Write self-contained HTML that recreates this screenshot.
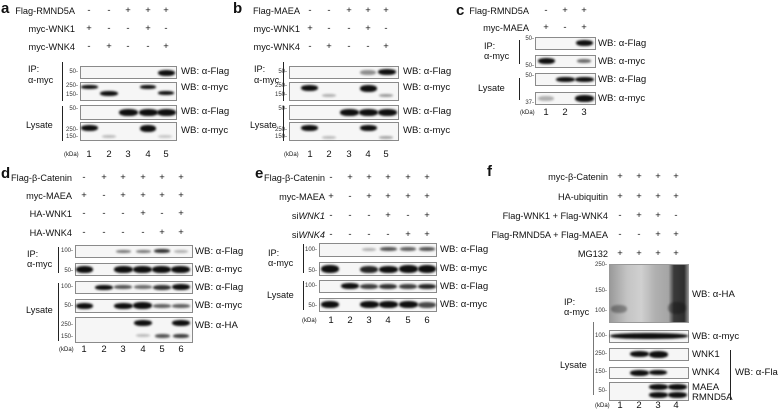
<!DOCTYPE html>
<html><head><meta charset="utf-8"><style>
body{margin:0;background:#fff;}
#c{position:relative;width:778px;height:411px;overflow:hidden;font-family:"Liberation Sans",sans-serif;color:#111;}
.t{position:absolute;font-size:9.2px;white-space:nowrap;line-height:11px;}
.r{position:absolute;font-size:9.2px;white-space:nowrap;line-height:12px;text-align:right;}
.s{position:absolute;font-size:9.5px;width:10px;text-align:center;line-height:12px;}
.L{position:absolute;font-size:15px;font-weight:bold;line-height:16px;}
.box{position:absolute;border:1px solid #8a8a8a;background:#f6f6f6;box-sizing:border-box;}
.b{position:absolute;background:#0e0e0e;border-radius:45%;filter:blur(1.1px);}
.m{position:absolute;font-size:6px;line-height:7px;color:#333;text-align:right;width:20px;}
.v{position:absolute;width:1px;background:#222;}
.wb{position:absolute;font-size:9.6px;white-space:nowrap;line-height:12px;}
</style></head><body><div id="c">

<!-- ===== a ===== -->
<div class="L" style="left:1px;top:1px">a</div>
<div class="r" style="right:703px;top:5px">Flag-RMND5A</div>
<div class="r" style="right:703px;top:23px">myc-WNK1</div>
<div class="r" style="right:703px;top:41px">myc-WNK4</div>
<div class="s" style="left:84px;top:5px">-</div><div class="s" style="left:104px;top:5px">-</div><div class="s" style="left:123px;top:5px">+</div><div class="s" style="left:143px;top:5px">+</div><div class="s" style="left:161px;top:5px">+</div>
<div class="s" style="left:84px;top:23px">+</div><div class="s" style="left:104px;top:23px">-</div><div class="s" style="left:123px;top:23px">-</div><div class="s" style="left:143px;top:23px">+</div><div class="s" style="left:161px;top:23px">-</div>
<div class="s" style="left:84px;top:41px">-</div><div class="s" style="left:104px;top:41px">+</div><div class="s" style="left:123px;top:41px">-</div><div class="s" style="left:143px;top:41px">-</div><div class="s" style="left:161px;top:41px">+</div>
<div class="box" style="left:80px;top:66px;width:97px;height:13px"></div>
<div class="box" style="left:80px;top:82px;width:97px;height:19px"></div>
<div class="box" style="left:80px;top:105px;width:97px;height:15px"></div>
<div class="box" style="left:80px;top:122px;width:97px;height:19px"></div>
<div class="b" style="left:158px;top:70px;width:17px;height:6px"></div>
<div class="b" style="left:81px;top:85px;width:17px;height:4px"></div>
<div class="b" style="left:100px;top:91px;width:18px;height:5px"></div>
<div class="b" style="left:140px;top:85px;width:16px;height:4px"></div>
<div class="b" style="left:158px;top:91px;width:16px;height:4px"></div>
<div class="b" style="left:119px;top:109px;width:19px;height:7px"></div>
<div class="b" style="left:139px;top:109px;width:19px;height:7px"></div>
<div class="b" style="left:157px;top:109px;width:19px;height:7px"></div>
<div class="b" style="left:81px;top:125px;width:17px;height:6px"></div>
<div class="b" style="left:140px;top:125px;width:16px;height:7px"></div>
<div class="b" style="left:102px;top:135px;width:14px;height:3px;opacity:.25"></div>
<div class="b" style="left:158px;top:135px;width:14px;height:3px;opacity:.2"></div>
<div class="m" style="left:58px;top:69px">50-</div>
<div class="m" style="left:58px;top:83px">250-</div>
<div class="m" style="left:58px;top:92px">150-</div>
<div class="m" style="left:58px;top:106px">50-</div>
<div class="m" style="left:58px;top:127px">250-</div>
<div class="m" style="left:58px;top:134px">150-</div>
<div class="wb" style="left:181px;top:66px">WB: α-Flag</div>
<div class="wb" style="left:181px;top:82px">WB: α-myc</div>
<div class="wb" style="left:181px;top:106px">WB: α-Flag</div>
<div class="wb" style="left:181px;top:125px">WB: α-myc</div>
<div class="v" style="left:62px;top:62px;height:39px"></div>
<div class="v" style="left:62px;top:106px;height:35px"></div>
<div class="t" style="left:28px;top:64px">IP:</div>
<div class="t" style="left:28px;top:75px">α-myc</div>
<div class="t" style="left:26px;top:120px">Lysate</div>
<div class="t" style="left:64px;top:150px;font-size:6px">(kDa)</div>
<div class="s" style="left:84px;top:149px">1</div><div class="s" style="left:104px;top:149px">2</div><div class="s" style="left:123px;top:149px">3</div><div class="s" style="left:143px;top:149px">4</div><div class="s" style="left:161px;top:149px">5</div>

<!-- ===== b ===== -->
<div class="L" style="left:233px;top:1px">b</div>
<div class="r" style="right:478px;top:5px">Flag-MAEA</div>
<div class="r" style="right:478px;top:23px">myc-WNK1</div>
<div class="r" style="right:478px;top:41px">myc-WNK4</div>
<div class="s" style="left:305px;top:5px">-</div><div class="s" style="left:324px;top:5px">-</div><div class="s" style="left:344px;top:5px">+</div><div class="s" style="left:363px;top:5px">+</div><div class="s" style="left:381px;top:5px">+</div>
<div class="s" style="left:305px;top:23px">+</div><div class="s" style="left:324px;top:23px">-</div><div class="s" style="left:344px;top:23px">-</div><div class="s" style="left:363px;top:23px">+</div><div class="s" style="left:381px;top:23px">-</div>
<div class="s" style="left:305px;top:41px">-</div><div class="s" style="left:324px;top:41px">+</div><div class="s" style="left:344px;top:41px">-</div><div class="s" style="left:363px;top:41px">-</div><div class="s" style="left:381px;top:41px">+</div>
<div class="box" style="left:289px;top:66px;width:110px;height:13px"></div>
<div class="box" style="left:289px;top:82px;width:110px;height:19px"></div>
<div class="box" style="left:289px;top:105px;width:110px;height:15px"></div>
<div class="box" style="left:289px;top:122px;width:110px;height:19px"></div>
<div class="b" style="left:360px;top:70px;width:16px;height:5px;opacity:.45"></div>
<div class="b" style="left:378px;top:69px;width:18px;height:6px"></div>
<div class="b" style="left:301px;top:85px;width:17px;height:6px"></div>
<div class="b" style="left:360px;top:85px;width:17px;height:7px"></div>
<div class="b" style="left:322px;top:94px;width:14px;height:3px;opacity:.3"></div>
<div class="b" style="left:379px;top:94px;width:14px;height:3px;opacity:.4"></div>
<div class="b" style="left:340px;top:109px;width:19px;height:7px"></div>
<div class="b" style="left:359px;top:109px;width:19px;height:7px"></div>
<div class="b" style="left:378px;top:109px;width:19px;height:7px"></div>
<div class="b" style="left:301px;top:125px;width:17px;height:6px"></div>
<div class="b" style="left:360px;top:125px;width:17px;height:6px"></div>
<div class="b" style="left:322px;top:136px;width:14px;height:3px;opacity:.25"></div>
<div class="b" style="left:379px;top:136px;width:14px;height:3px;opacity:.35"></div>
<div class="m" style="left:267px;top:69px">50-</div>
<div class="m" style="left:267px;top:83px">250-</div>
<div class="m" style="left:267px;top:92px">150-</div>
<div class="m" style="left:267px;top:106px">50-</div>
<div class="m" style="left:267px;top:127px">250-</div>
<div class="m" style="left:267px;top:134px">150-</div>
<div class="wb" style="left:403px;top:66px">WB: α-Flag</div>
<div class="wb" style="left:403px;top:82px">WB: α-myc</div>
<div class="wb" style="left:403px;top:106px">WB: α-Flag</div>
<div class="wb" style="left:403px;top:125px">WB: α-myc</div>
<div class="v" style="left:283px;top:62px;height:39px"></div>
<div class="v" style="left:283px;top:106px;height:35px"></div>
<div class="t" style="left:254px;top:64px">IP:</div>
<div class="t" style="left:254px;top:75px">α-myc</div>
<div class="t" style="left:250px;top:120px">Lysate</div>
<div class="t" style="left:284px;top:150px;font-size:6px">(kDa)</div>
<div class="s" style="left:305px;top:149px">1</div><div class="s" style="left:324px;top:149px">2</div><div class="s" style="left:344px;top:149px">3</div><div class="s" style="left:363px;top:149px">4</div><div class="s" style="left:381px;top:149px">5</div>

<!-- ===== c ===== -->
<div class="L" style="left:456px;top:3px">c</div>
<div class="r" style="right:249px;top:5px">Flag-RMND5A</div>
<div class="r" style="right:249px;top:22px">myc-MAEA</div>
<div class="s" style="left:541px;top:5px">-</div><div class="s" style="left:560px;top:5px">+</div><div class="s" style="left:579px;top:5px">+</div>
<div class="s" style="left:541px;top:22px">+</div><div class="s" style="left:560px;top:22px">-</div><div class="s" style="left:579px;top:22px">+</div>
<div class="box" style="left:535px;top:37px;width:61px;height:13px"></div>
<div class="box" style="left:535px;top:55px;width:61px;height:13px"></div>
<div class="box" style="left:535px;top:73px;width:61px;height:13px"></div>
<div class="box" style="left:535px;top:92px;width:61px;height:13px"></div>
<div class="b" style="left:576px;top:40px;width:17px;height:6px"></div>
<div class="b" style="left:538px;top:58px;width:17px;height:6px"></div>
<div class="b" style="left:577px;top:59px;width:14px;height:4px;opacity:.6"></div>
<div class="b" style="left:556px;top:77px;width:19px;height:5px"></div>
<div class="b" style="left:575px;top:77px;width:19px;height:5px"></div>
<div class="b" style="left:538px;top:96px;width:16px;height:5px;opacity:.3"></div>
<div class="b" style="left:575px;top:95px;width:19px;height:7px"></div>
<div class="m" style="left:514px;top:36px">50-</div>
<div class="m" style="left:514px;top:63px">50-</div>
<div class="m" style="left:514px;top:73px">50-</div>
<div class="m" style="left:514px;top:100px">37-</div>
<div class="wb" style="left:598px;top:38px">WB: α-Flag</div>
<div class="wb" style="left:598px;top:56px">WB: α-myc</div>
<div class="wb" style="left:598px;top:74px">WB: α-Flag</div>
<div class="wb" style="left:598px;top:93px">WB: α-myc</div>
<div class="v" style="left:519px;top:40px;height:24px"></div>
<div class="v" style="left:519px;top:78px;height:22px"></div>
<div class="t" style="left:484px;top:41px">IP:</div>
<div class="t" style="left:484px;top:51px">α-myc</div>
<div class="t" style="left:478px;top:83px">Lysate</div>
<div class="t" style="left:520px;top:108px;font-size:6px">(kDa)</div>
<div class="s" style="left:541px;top:107px">1</div><div class="s" style="left:560px;top:107px">2</div><div class="s" style="left:579px;top:107px">3</div>

<!-- ===== d ===== -->
<div class="L" style="left:1px;top:166px">d</div>
<div class="r" style="right:706px;top:172px">Flag-β-Catenin</div>
<div class="r" style="right:706px;top:190px">myc-MAEA</div>
<div class="r" style="right:706px;top:208px">HA-WNK1</div>
<div class="r" style="right:706px;top:227px">HA-WNK4</div>
<div class="s" style="left:79px;top:172px">-</div><div class="s" style="left:99px;top:172px">+</div><div class="s" style="left:118px;top:172px">+</div><div class="s" style="left:138px;top:172px">+</div><div class="s" style="left:157px;top:172px">+</div><div class="s" style="left:176px;top:172px">+</div>
<div class="s" style="left:79px;top:190px">+</div><div class="s" style="left:99px;top:190px">-</div><div class="s" style="left:118px;top:190px">+</div><div class="s" style="left:138px;top:190px">+</div><div class="s" style="left:157px;top:190px">+</div><div class="s" style="left:176px;top:190px">+</div>
<div class="s" style="left:79px;top:208px">-</div><div class="s" style="left:99px;top:208px">-</div><div class="s" style="left:118px;top:208px">-</div><div class="s" style="left:138px;top:208px">+</div><div class="s" style="left:157px;top:208px">-</div><div class="s" style="left:176px;top:208px">+</div>
<div class="s" style="left:79px;top:227px">-</div><div class="s" style="left:99px;top:227px">-</div><div class="s" style="left:118px;top:227px">-</div><div class="s" style="left:138px;top:227px">-</div><div class="s" style="left:157px;top:227px">+</div><div class="s" style="left:176px;top:227px">+</div>
<div class="box" style="left:75px;top:245px;width:118px;height:13px"></div>
<div class="box" style="left:75px;top:263px;width:118px;height:13px"></div>
<div class="box" style="left:75px;top:281px;width:118px;height:13px"></div>
<div class="box" style="left:75px;top:299px;width:118px;height:14px"></div>
<div class="box" style="left:75px;top:317px;width:118px;height:26px"></div>
<div class="b" style="left:116px;top:250px;width:15px;height:3px;opacity:.55"></div>
<div class="b" style="left:136px;top:250px;width:15px;height:3px;opacity:.55"></div>
<div class="b" style="left:154px;top:249px;width:16px;height:4px;opacity:.85"></div>
<div class="b" style="left:174px;top:250px;width:14px;height:3px;opacity:.3"></div>
<div class="b" style="left:76px;top:266px;width:17px;height:7px"></div>
<div class="b" style="left:114px;top:266px;width:19px;height:7px"></div>
<div class="b" style="left:133px;top:266px;width:19px;height:7px"></div>
<div class="b" style="left:152px;top:266px;width:19px;height:7px"></div>
<div class="b" style="left:171px;top:266px;width:19px;height:7px"></div>
<div class="b" style="left:95px;top:285px;width:18px;height:5px"></div>
<div class="b" style="left:114px;top:285px;width:18px;height:4px;opacity:.7"></div>
<div class="b" style="left:134px;top:285px;width:18px;height:4px;opacity:.6"></div>
<div class="b" style="left:153px;top:285px;width:18px;height:5px;opacity:.85"></div>
<div class="b" style="left:172px;top:284px;width:18px;height:6px"></div>
<div class="b" style="left:76px;top:303px;width:17px;height:6px"></div>
<div class="b" style="left:114px;top:303px;width:19px;height:6px"></div>
<div class="b" style="left:133px;top:302px;width:19px;height:7px"></div>
<div class="b" style="left:153px;top:304px;width:18px;height:4px;opacity:.65"></div>
<div class="b" style="left:172px;top:304px;width:18px;height:4px;opacity:.65"></div>
<div class="b" style="left:134px;top:320px;width:18px;height:6px"></div>
<div class="b" style="left:172px;top:320px;width:18px;height:6px"></div>
<div class="b" style="left:136px;top:334px;width:14px;height:3px;opacity:.25"></div>
<div class="b" style="left:155px;top:334px;width:15px;height:4px;opacity:.7"></div>
<div class="b" style="left:173px;top:334px;width:16px;height:4px;opacity:.8"></div>
<div class="m" style="left:53px;top:248px">100-</div>
<div class="m" style="left:53px;top:268px">50-</div>
<div class="m" style="left:53px;top:284px">100-</div>
<div class="m" style="left:53px;top:303px">50-</div>
<div class="m" style="left:53px;top:322px">250-</div>
<div class="m" style="left:53px;top:334px">150-</div>
<div class="wb" style="left:195px;top:246px">WB: α-Flag</div>
<div class="wb" style="left:195px;top:264px">WB: α-myc</div>
<div class="wb" style="left:195px;top:282px">WB: α-Flag</div>
<div class="wb" style="left:195px;top:300px">WB: α-myc</div>
<div class="wb" style="left:195px;top:320px">WB: α-HA</div>
<div class="v" style="left:58px;top:247px;height:26px"></div>
<div class="v" style="left:58px;top:283px;height:58px"></div>
<div class="t" style="left:27px;top:249px">IP:</div>
<div class="t" style="left:27px;top:259px">α-myc</div>
<div class="t" style="left:26px;top:305px">Lysate</div>
<div class="t" style="left:59px;top:345px;font-size:6px">(kDa)</div>
<div class="s" style="left:79px;top:344px">1</div><div class="s" style="left:99px;top:344px">2</div><div class="s" style="left:118px;top:344px">3</div><div class="s" style="left:138px;top:344px">4</div><div class="s" style="left:157px;top:344px">5</div><div class="s" style="left:176px;top:344px">6</div>

<!-- ===== e ===== -->
<div class="L" style="left:255px;top:166px">e</div>
<div class="r" style="right:453px;top:172px">Flag-β-Catenin</div>
<div class="r" style="right:453px;top:191px">myc-MAEA</div>
<div class="r" style="right:453px;top:210px">si<i>WNK1</i></div>
<div class="r" style="right:453px;top:229px">si<i>WNK4</i></div>
<div class="s" style="left:326px;top:172px">-</div><div class="s" style="left:345px;top:172px">+</div><div class="s" style="left:364px;top:172px">+</div><div class="s" style="left:383px;top:172px">+</div><div class="s" style="left:403px;top:172px">+</div><div class="s" style="left:422px;top:172px">+</div>
<div class="s" style="left:326px;top:191px">+</div><div class="s" style="left:345px;top:191px">-</div><div class="s" style="left:364px;top:191px">+</div><div class="s" style="left:383px;top:191px">+</div><div class="s" style="left:403px;top:191px">+</div><div class="s" style="left:422px;top:191px">+</div>
<div class="s" style="left:326px;top:210px">-</div><div class="s" style="left:345px;top:210px">-</div><div class="s" style="left:364px;top:210px">-</div><div class="s" style="left:383px;top:210px">+</div><div class="s" style="left:403px;top:210px">-</div><div class="s" style="left:422px;top:210px">+</div>
<div class="s" style="left:326px;top:229px">-</div><div class="s" style="left:345px;top:229px">-</div><div class="s" style="left:364px;top:229px">-</div><div class="s" style="left:383px;top:229px">-</div><div class="s" style="left:403px;top:229px">+</div><div class="s" style="left:422px;top:229px">+</div>
<div class="box" style="left:319px;top:243px;width:118px;height:14px"></div>
<div class="box" style="left:319px;top:262px;width:118px;height:14px"></div>
<div class="box" style="left:319px;top:280px;width:118px;height:13px"></div>
<div class="box" style="left:319px;top:298px;width:118px;height:14px"></div>
<div class="b" style="left:362px;top:248px;width:14px;height:3px;opacity:.3"></div>
<div class="b" style="left:380px;top:247px;width:17px;height:4px;opacity:.7"></div>
<div class="b" style="left:400px;top:247px;width:16px;height:4px;opacity:.65"></div>
<div class="b" style="left:419px;top:247px;width:16px;height:4px;opacity:.7"></div>
<div class="b" style="left:321px;top:265px;width:18px;height:8px"></div>
<div class="b" style="left:360px;top:266px;width:18px;height:7px;opacity:.9"></div>
<div class="b" style="left:379px;top:266px;width:19px;height:7px"></div>
<div class="b" style="left:399px;top:265px;width:19px;height:8px"></div>
<div class="b" style="left:418px;top:265px;width:18px;height:8px"></div>
<div class="b" style="left:341px;top:283px;width:18px;height:6px"></div>
<div class="b" style="left:360px;top:284px;width:18px;height:5px;opacity:.8"></div>
<div class="b" style="left:379px;top:284px;width:18px;height:5px;opacity:.85"></div>
<div class="b" style="left:399px;top:284px;width:18px;height:5px;opacity:.8"></div>
<div class="b" style="left:418px;top:284px;width:18px;height:5px;opacity:.9"></div>
<div class="b" style="left:321px;top:301px;width:18px;height:7px"></div>
<div class="b" style="left:360px;top:301px;width:19px;height:7px"></div>
<div class="b" style="left:379px;top:301px;width:19px;height:7px"></div>
<div class="b" style="left:399px;top:301px;width:19px;height:7px"></div>
<div class="b" style="left:418px;top:302px;width:18px;height:6px;opacity:.75"></div>
<div class="m" style="left:297px;top:247px">100-</div>
<div class="m" style="left:297px;top:268px">50-</div>
<div class="m" style="left:297px;top:283px">100-</div>
<div class="m" style="left:297px;top:303px">50-</div>
<div class="wb" style="left:440px;top:244px">WB: α-Flag</div>
<div class="wb" style="left:440px;top:263px">WB: α-myc</div>
<div class="wb" style="left:440px;top:281px">WB: α-Flag</div>
<div class="wb" style="left:440px;top:299px">WB: α-myc</div>
<div class="v" style="left:303px;top:244px;height:29px"></div>
<div class="v" style="left:303px;top:281px;height:29px"></div>
<div class="t" style="left:268px;top:248px">IP:</div>
<div class="t" style="left:268px;top:258px">α-myc</div>
<div class="t" style="left:267px;top:290px">Lysate</div>
<div class="t" style="left:302px;top:316px;font-size:6px">(kDa)</div>
<div class="s" style="left:326px;top:315px">1</div><div class="s" style="left:345px;top:315px">2</div><div class="s" style="left:364px;top:315px">3</div><div class="s" style="left:383px;top:315px">4</div><div class="s" style="left:403px;top:315px">5</div><div class="s" style="left:422px;top:315px">6</div>

<!-- ===== f ===== -->
<div class="L" style="left:487px;top:164px">f</div>
<div class="r" style="right:170px;top:171px">myc-β-Catenin</div>
<div class="r" style="right:170px;top:191px">HA-ubiquitin</div>
<div class="r" style="right:170px;top:210px">Flag-WNK1 + Flag-WNK4</div>
<div class="r" style="right:170px;top:229px">Flag-RMND5A + Flag-MAEA</div>
<div class="r" style="right:170px;top:248px">MG132</div>
<div class="s" style="left:615px;top:171px">+</div><div class="s" style="left:634px;top:171px">+</div><div class="s" style="left:653px;top:171px">+</div><div class="s" style="left:671px;top:171px">+</div>
<div class="s" style="left:615px;top:191px">+</div><div class="s" style="left:634px;top:191px">+</div><div class="s" style="left:653px;top:191px">+</div><div class="s" style="left:671px;top:191px">+</div>
<div class="s" style="left:615px;top:210px">-</div><div class="s" style="left:634px;top:210px">+</div><div class="s" style="left:653px;top:210px">+</div><div class="s" style="left:671px;top:210px">-</div>
<div class="s" style="left:615px;top:229px">-</div><div class="s" style="left:634px;top:229px">-</div><div class="s" style="left:653px;top:229px">+</div><div class="s" style="left:671px;top:229px">+</div>
<div class="s" style="left:615px;top:248px">+</div><div class="s" style="left:634px;top:248px">+</div><div class="s" style="left:653px;top:248px">+</div><div class="s" style="left:671px;top:248px">+</div>
<div class="box" style="left:609px;top:264px;width:80px;height:59px;border-color:#999;background:linear-gradient(90deg,#9a9a9a 0%,#c4c4c4 22%,#d0d0d0 40%,#b0b0b0 58%,#a5a5a5 75%,#3a3a3a 82%,#2e2e2e 95%,#888 100%)"></div>
<div class="b" style="left:611px;top:305px;width:16px;height:8px;opacity:.35"></div>
<div class="b" style="left:668px;top:302px;width:18px;height:12px;opacity:.4"></div>
<div class="box" style="left:609px;top:330px;width:80px;height:13px"></div>
<div class="box" style="left:609px;top:348px;width:80px;height:13px"></div>
<div class="box" style="left:609px;top:367px;width:80px;height:12px"></div>
<div class="box" style="left:609px;top:382px;width:80px;height:19px"></div>
<div class="b" style="left:610px;top:333px;width:78px;height:6px"></div>
<div class="b" style="left:630px;top:351px;width:19px;height:6px"></div>
<div class="b" style="left:649px;top:351px;width:19px;height:7px"></div>
<div class="b" style="left:630px;top:370px;width:19px;height:6px"></div>
<div class="b" style="left:649px;top:370px;width:18px;height:5px"></div>
<div class="b" style="left:649px;top:384px;width:19px;height:6px"></div>
<div class="b" style="left:668px;top:384px;width:19px;height:6px"></div>
<div class="b" style="left:649px;top:392px;width:19px;height:6px"></div>
<div class="b" style="left:668px;top:392px;width:19px;height:6px"></div>
<div class="m" style="left:587px;top:262px">250-</div>
<div class="m" style="left:587px;top:288px">150-</div>
<div class="m" style="left:587px;top:308px">100-</div>
<div class="m" style="left:587px;top:333px">100-</div>
<div class="m" style="left:587px;top:351px">250-</div>
<div class="m" style="left:587px;top:369px">150-</div>
<div class="m" style="left:587px;top:388px">50-</div>
<div class="wb" style="left:692px;top:289px">WB: α-HA</div>
<div class="wb" style="left:692px;top:331px">WB: α-myc</div>
<div class="wb" style="left:692px;top:349px">WNK1</div>
<div class="wb" style="left:692px;top:367px">WNK4</div>
<div class="wb" style="left:692px;top:382px">MAEA</div>
<div class="wb" style="left:692px;top:392px">RMND5A</div>
<div class="wb" style="left:735px;top:367px">WB: α-Flag</div>
<div class="v" style="left:730px;top:350px;height:50px"></div>
<div class="v" style="left:593px;top:322px;height:73px;background:#777"></div>
<div class="t" style="left:564px;top:297px">IP:</div>
<div class="t" style="left:564px;top:307px">α-myc</div>
<div class="t" style="left:560px;top:360px">Lysate</div>
<div class="t" style="left:595px;top:401px;font-size:6px">(kDa)</div>
<div class="s" style="left:615px;top:400px">1</div><div class="s" style="left:634px;top:400px">2</div><div class="s" style="left:653px;top:400px">3</div><div class="s" style="left:671px;top:400px">4</div>

</div></body></html>
